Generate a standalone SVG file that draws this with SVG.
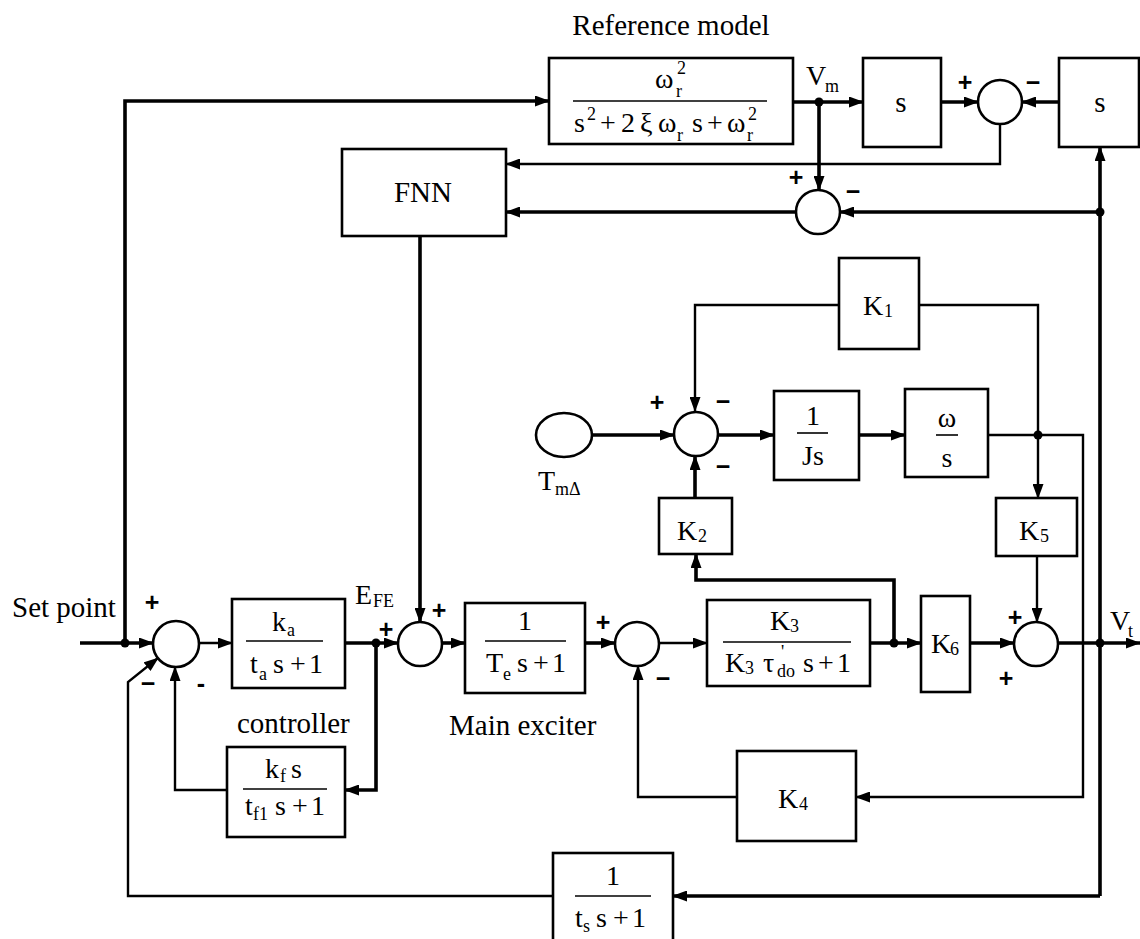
<svg xmlns="http://www.w3.org/2000/svg" width="1140" height="939" viewBox="0 0 1140 939">
<style>
.bx{fill:#fff;stroke:#000;stroke-width:2.6}
.sm{fill:#fff;stroke:#000;stroke-width:2.6}
.t{font-family:"Liberation Serif","Times New Roman",serif;font-size:29px;fill:#000}
.m{font-family:"Liberation Serif","Times New Roman",serif;font-size:28px;fill:#000}
.u{font-size:18px}
.c{text-anchor:middle}
.sg{font-family:"Liberation Sans",Arial,sans-serif;font-weight:bold;font-size:25px;text-anchor:middle;fill:#000}
.fl{stroke:#000;stroke-width:1.6}
.w{fill:none;stroke:#000;stroke-width:3.6}
.n{fill:none;stroke:#000;stroke-width:2.4}
.d{fill:#000}
</style>
<defs>
<marker id="ar" markerWidth="15" markerHeight="11" refX="14" refY="5.5" orient="auto" markerUnits="userSpaceOnUse"><path d="M0,0 L15,5.5 L0,11 z" fill="#000"/></marker>
</defs>
<rect width="1140" height="939" fill="#fff"/>

<g id="connectors">
<path class="w" d="M80,643 H153" marker-end="url(#ar)"/>
<path class="w" d="M125,643 V101 H549" marker-end="url(#ar)"/>
<path class="n" d="M199,643 H232" marker-end="url(#ar)"/>
<path class="w" d="M345,643 H398" marker-end="url(#ar)"/>
<path class="w" d="M376,643 V790 H345" marker-end="url(#ar)"/>
<path class="n" d="M227,790 H175 V667" marker-end="url(#ar)"/>
<path class="w" d="M420,236 V622" marker-end="url(#ar)"/>
<path class="w" d="M442,643 H465" marker-end="url(#ar)"/>
<path class="w" d="M585,643 H615" marker-end="url(#ar)"/>
<path class="n" d="M659,643 H707" marker-end="url(#ar)"/>
<path class="w" d="M870,643 H921" marker-end="url(#ar)"/>
<path class="w" d="M894,643 V580 H696 V554" marker-end="url(#ar)"/>
<path class="w" d="M970,643 H1014" marker-end="url(#ar)"/>
<path class="w" d="M1058,643 H1140" marker-end="url(#ar)"/>
<path class="w" d="M1100,896 V147" marker-end="url(#ar)"/>
<path class="w" d="M1100,896 H673" marker-end="url(#ar)"/>
<path class="n" d="M553,896 H128 V682 L158,658" marker-end="url(#ar)"/>
<path class="n" d="M737,797 H638 V666" marker-end="url(#ar)"/>
<path class="n" d="M988,435 H1083 V797 H856" marker-end="url(#ar)"/>
<path class="n" d="M919,305 H1038 V498" marker-end="url(#ar)"/>
<path class="n" d="M839,305 H695 V411" marker-end="url(#ar)"/>
<path class="w" d="M592,435 H674" marker-end="url(#ar)"/>
<path class="w" d="M718,435 H774" marker-end="url(#ar)"/>
<path class="w" d="M859,435 H905" marker-end="url(#ar)"/>
<path class="w" d="M695,498 V456" marker-end="url(#ar)"/>
<path class="n" d="M1037,556 V622" marker-end="url(#ar)"/>
<path class="w" d="M793,102 H863" marker-end="url(#ar)"/>
<path class="w" d="M819,102 V190" marker-end="url(#ar)"/>
<path class="w" d="M941,102 H978" marker-end="url(#ar)"/>
<path class="w" d="M1059,102 H1022" marker-end="url(#ar)"/>
<path class="n" d="M1000,124 V164 H506" marker-end="url(#ar)"/>
<path class="w" d="M796,212 H506" marker-end="url(#ar)"/>
<path class="w" d="M1100,212 H840" marker-end="url(#ar)"/>
<circle class="d" cx="125" cy="643" r="4.5"/>
<circle class="d" cx="376" cy="643" r="4.5"/>
<circle class="d" cx="894" cy="643" r="4.5"/>
<circle class="d" cx="1100" cy="643" r="4.5"/>
<circle class="d" cx="1100" cy="212" r="4.5"/>
<circle class="d" cx="819" cy="102" r="4.5"/>
<circle class="d" cx="1038" cy="435" r="4.5"/>
</g>

<g id="reference-model">
<text class="t c" x="671" y="35">Reference model</text>
<rect class="bx" x="549" y="58" width="244" height="86"/>
<line class="fl" x1="573" y1="101" x2="767" y2="101"/>
<text class="m"><tspan x="655" y="88">ω</tspan><tspan class="u" x="677" y="74">2</tspan><tspan class="u" x="676" y="97">r</tspan></text>
<text class="m"><tspan x="574" y="132">s</tspan><tspan class="u" x="587" y="120">2</tspan><tspan x="600" y="132">+</tspan><tspan x="621" y="132">2</tspan><tspan x="640" y="132">ξ</tspan><tspan x="658" y="132">ω</tspan><tspan class="u" x="677" y="141">r</tspan><tspan x="692" y="132">s</tspan><tspan x="707" y="132">+</tspan><tspan x="727" y="132">ω</tspan><tspan class="u" x="747" y="141">r</tspan><tspan class="u" x="748" y="120">2</tspan></text>
</g>

<g id="label-vm"><text class="m"><tspan x="806" y="85">V</tspan><tspan class="u" x="825" y="92">m</tspan></text></g>

<g id="s-block-1"><rect class="bx" x="863" y="58" width="78" height="89"/><text class="t c" x="901" y="112">s</text></g>
<g id="s-block-2"><rect class="bx" x="1059" y="58" width="80" height="89"/><text class="t c" x="1100" y="112">s</text></g>

<g id="sum-1"><circle class="sm" cx="1000" cy="102" r="22"/><text class="sg" x="965" y="91">+</text><text class="sg" x="1033" y="91">−</text></g>
<g id="sum-2"><circle class="sm" cx="818" cy="212" r="22"/><text class="sg" x="796" y="186">+</text><text class="sg" x="853" y="200">−</text></g>

<g id="fnn"><rect class="bx" x="342" y="149" width="164" height="87"/><text class="t c" x="423" y="202">FNN</text></g>

<g id="k1"><rect class="bx" x="839" y="258" width="80" height="91"/><text class="m"><tspan x="863" y="315">K</tspan><tspan class="u" x="884" y="317">1</tspan></text></g>

<g id="t-m-delta"><ellipse class="sm" cx="564" cy="435" rx="28" ry="22"/><text class="m"><tspan x="538" y="490">T</tspan><tspan class="u" x="555" y="495">mΔ</tspan></text></g>

<g id="sum-3"><circle class="sm" cx="696" cy="434" r="22"/><text class="sg" x="657" y="411">+</text><text class="sg" x="723" y="410">−</text><text class="sg" x="723" y="475">−</text></g>

<g id="js"><rect class="bx" x="774" y="391" width="85" height="89"/><text class="m c" x="813" y="425">1</text><line class="fl" x1="797" y1="433" x2="828" y2="433"/><text class="m c" x="813" y="465">Js</text></g>

<g id="omega-s"><rect class="bx" x="905" y="389" width="83" height="88"/><text class="m c" x="947" y="427">ω</text><line class="fl" x1="936" y1="435" x2="958" y2="435"/><text class="m c" x="947" y="467">s</text></g>

<g id="k2"><rect class="bx" x="659" y="498" width="73" height="56"/><text class="m"><tspan x="677" y="540">K</tspan><tspan class="u" x="698" y="542">2</tspan></text></g>
<g id="k5"><rect class="bx" x="996" y="498" width="81" height="58"/><text class="m"><tspan x="1019" y="540">K</tspan><tspan class="u" x="1040" y="542">5</tspan></text></g>

<g id="set-point"><text class="t" x="12" y="617">Set point</text></g>

<g id="sum-a"><circle class="sm" cx="176" cy="644" r="23"/><text class="sg" x="152" y="611">+</text><text class="sg" x="148" y="692">−</text><text class="sg" x="201" y="692">-</text></g>

<g id="ka"><rect class="bx" x="232" y="599" width="113" height="89"/>
<text class="m"><tspan x="272" y="631">k</tspan><tspan class="u" x="287" y="636">a</tspan></text>
<line class="fl" x1="246" y1="641" x2="323" y2="641"/>
<text class="m"><tspan x="250" y="673">t</tspan><tspan class="u" x="259" y="680">a</tspan><tspan x="273" y="673">s</tspan><tspan x="290" y="673">+</tspan><tspan x="309" y="673">1</tspan></text></g>

<g id="label-efe"><text class="m"><tspan x="355" y="604">E</tspan><tspan class="u" x="373" y="607">FE</tspan></text></g>

<g id="sum-b"><circle class="sm" cx="420" cy="644" r="22"/><text class="sg" x="386" y="638">+</text><text class="sg" x="439" y="619">+</text></g>

<g id="main-exciter"><rect class="bx" x="465" y="603" width="120" height="90"/>
<text class="m c" x="525" y="630">1</text>
<line class="fl" x1="485" y1="641" x2="566" y2="641"/>
<text class="m"><tspan x="486" y="672">T</tspan><tspan class="u" x="503" y="680">e</tspan><tspan x="517" y="672">s</tspan><tspan x="533" y="672">+</tspan><tspan x="552" y="672">1</tspan></text>
<text class="t" x="449" y="735">Main exciter</text></g>

<g id="sum-c"><circle class="sm" cx="637" cy="644" r="22"/><text class="sg" x="603" y="631">+</text><text class="sg" x="663" y="687">−</text></g>

<g id="k3"><rect class="bx" x="707" y="600" width="163" height="86"/>
<text class="m"><tspan x="770" y="630">K</tspan><tspan class="u" x="790" y="632">3</tspan></text>
<line class="fl" x1="723" y1="642" x2="851" y2="642"/>
<text class="m"><tspan x="725" y="672">K</tspan><tspan class="u" x="745" y="674">3</tspan><tspan x="763" y="672">τ</tspan><tspan class="u" x="781" y="658">'</tspan><tspan class="u" x="777" y="677">do</tspan><tspan x="803" y="672">s</tspan><tspan x="818" y="672">+</tspan><tspan x="837" y="672">1</tspan></text></g>

<g id="k6"><rect class="bx" x="921" y="596" width="49" height="96"/><text class="m"><tspan x="931" y="653">K</tspan><tspan class="u" x="950" y="655">6</tspan></text></g>

<g id="sum-d"><circle class="sm" cx="1036" cy="644" r="22"/><text class="sg" x="1015" y="626">+</text><text class="sg" x="1006" y="687">+</text></g>

<g id="label-vt"><text class="m"><tspan x="1110" y="630">V</tspan><tspan class="u" x="1128" y="637">t</tspan></text></g>

<g id="controller"><text class="t" x="237" y="733">controller</text>
<rect class="bx" x="227" y="747" width="118" height="90"/>
<text class="m"><tspan x="265" y="778">k</tspan><tspan class="u" x="280" y="782">f</tspan><tspan x="291" y="778">s</tspan></text>
<line class="fl" x1="243" y1="789" x2="327" y2="789"/>
<text class="m"><tspan x="245" y="815">t</tspan><tspan class="u" x="253" y="820">f1</tspan><tspan x="275" y="815">s</tspan><tspan x="292" y="815">+</tspan><tspan x="311" y="815">1</tspan></text></g>

<g id="k4"><rect class="bx" x="737" y="751" width="119" height="90"/><text class="m"><tspan x="778" y="808">K</tspan><tspan class="u" x="799" y="810">4</tspan></text></g>

<g id="ts"><rect class="bx" x="553" y="853" width="120" height="100"/>
<text class="m c" x="613" y="885">1</text>
<line class="fl" x1="575" y1="896" x2="651" y2="896"/>
<text class="m"><tspan x="575" y="927">t</tspan><tspan class="u" x="583" y="932">s</tspan><tspan x="596" y="927">s</tspan><tspan x="613" y="927">+</tspan><tspan x="632" y="927">1</tspan></text></g>
</svg>
